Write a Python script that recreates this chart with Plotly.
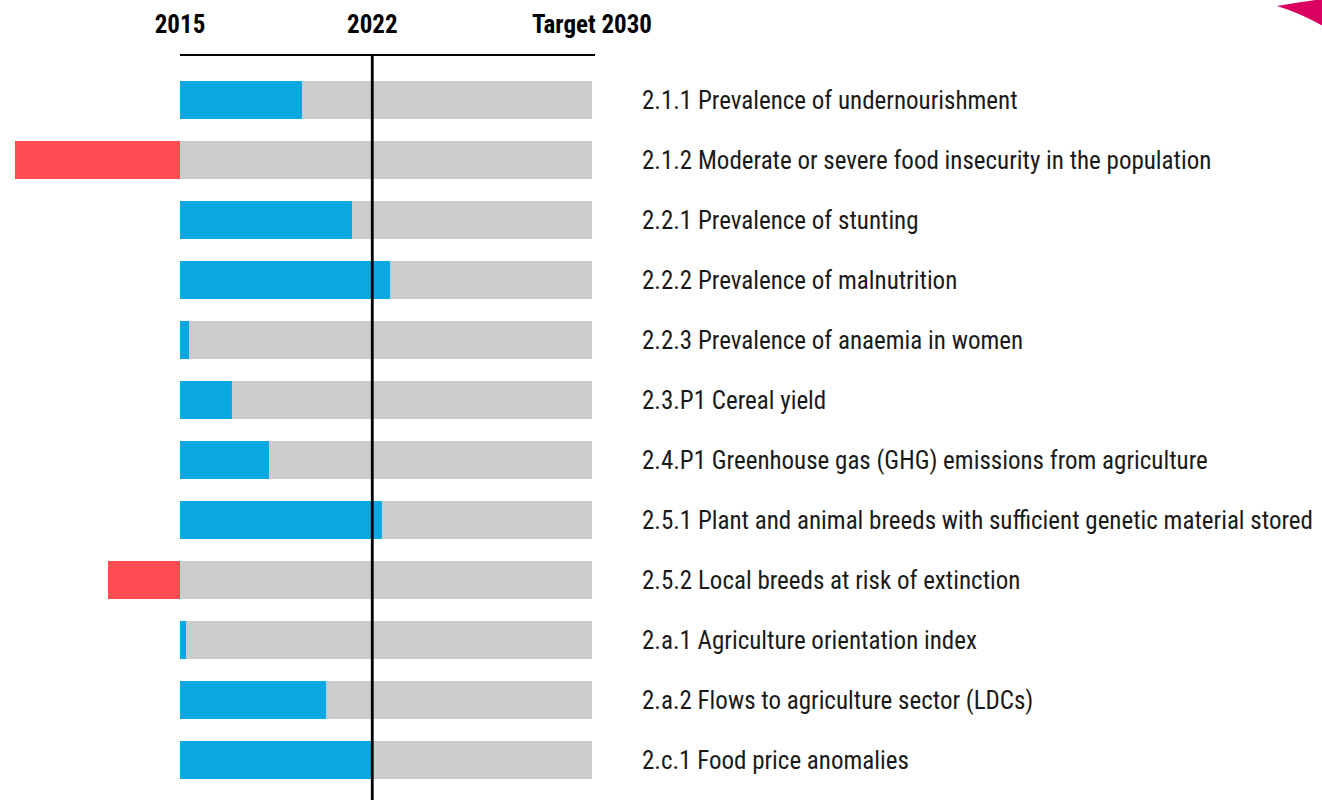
import plotly.graph_objects as go

# ---- data ----
indicators = [
    "2.1.1 Prevalence of undernourishment",
    "2.1.2 Moderate or severe food insecurity in the population",
    "2.2.1 Prevalence of stunting",
    "2.2.2 Prevalence of malnutrition",
    "2.2.3 Prevalence of anaemia in women",
    "2.3.P1 Cereal yield",
    "2.4.P1 Greenhouse gas (GHG) emissions from agriculture",
    "2.5.1 Plant and animal breeds with sufficient genetic material stored",
    "2.5.2 Local breeds at risk of extinction",
    "2.a.1 Agriculture orientation index",
    "2.a.2 Flows to agriculture sector (LDCs)",
    "2.c.1 Food price anomalies",
]
# progress since 2015 expressed in "years" on the 2015 -> 2030 scale (negative = moving away)
progress_years = [4.44, -6.01, 6.26, 7.65, 0.33, 1.89, 3.24, 7.35, -2.62, 0.22, 5.32, 7.03]
tick_years = [2015, 2022, 2030]
tick_labels = ["2015", "2022", "Target 2030"]
base_year = 2015
target_year = 2030
current_year = 2022

# ---- geometry ----
W, H = 1322, 800
TOP = 55
px_per_year = 412 / 15.0
x_left = base_year - 180 / px_per_year
x_right = base_year + (W - 180) / px_per_year
row_px = 60
y_top = -(100 - TOP) / row_px
y_bot = (len(indicators) - 1) + (H - 760) / row_px

FONT = "Roboto Condensed, Liberation Sans Narrow, DejaVu Sans Condensed, Roboto"

ypos = list(range(len(indicators)))
BLUE = "#09a8e1"
RED = "#ff4b51"
GRAY = "#cccccc"

fig = go.Figure()
fig.add_trace(go.Bar(
    y=ypos, x=[target_year - base_year] * len(ypos), base=base_year,
    orientation="h", marker=dict(color=GRAY, line=dict(width=0)),
    width=0.635, hoverinfo="skip", showlegend=False))
fig.add_trace(go.Bar(
    y=ypos, x=progress_years, base=base_year,
    orientation="h",
    marker=dict(color=[BLUE if v >= 0 else RED for v in progress_years], line=dict(width=0)),
    width=0.635, showlegend=False))

label_x = base_year + (640 - 180) / px_per_year
for i, name in enumerate(indicators):
    fig.add_annotation(x=label_x, y=i, text=name, showarrow=False,
                       xanchor="left", yanchor="middle", xref="x", yref="y",
                       font=dict(size=25, color="#1a1a1a", family=FONT))

# top rule and current-year marker
fig.add_shape(type="line", xref="x", yref="paper", x0=base_year,
              x1=target_year + 3 / px_per_year, y0=1, y1=1,
              line=dict(color="black", width=2.2))
fig.add_shape(type="line", xref="x", yref="paper", x0=current_year, x1=current_year,
              y0=-0.01, y1=1, line=dict(color="black", width=2.8))

# decorative pink shape in top-right corner
plot_h = H - TOP
def px(xp):
    return xp / W
def py(yp):
    return (H - yp) / plot_h
path = (f"M {px(1277)},{py(6)} Q {px(1300)},{py(2)} {px(1323)},{py(-1)} "
        f"L {px(1323)},{py(26)} Q {px(1300)},{py(13)} {px(1277)},{py(6)} Z")
fig.add_shape(type="path", xref="paper", yref="paper", path=path,
              fillcolor="#d9005f", line=dict(width=0))

fig.update_layout(
    width=W, height=H, barmode="overlay",
    margin=dict(l=0, r=0, t=TOP, b=0),
    paper_bgcolor="white", plot_bgcolor="white",
    xaxis=dict(range=[x_left, x_right], side="top", tickvals=tick_years, ticktext=tick_labels,
               showgrid=False, zeroline=False, showline=False, ticks="",
               ticklabelstandoff=16,
               tickfont=dict(size=25, color="black", family=FONT, weight="bold")),
    yaxis=dict(range=[y_bot, y_top], showgrid=False, zeroline=False, showline=False,
               showticklabels=False, ticks=""),
)

fig.write_html("out.html", config={"displayModeBar": False},
               post_script="document.body.style.margin='0px';")
